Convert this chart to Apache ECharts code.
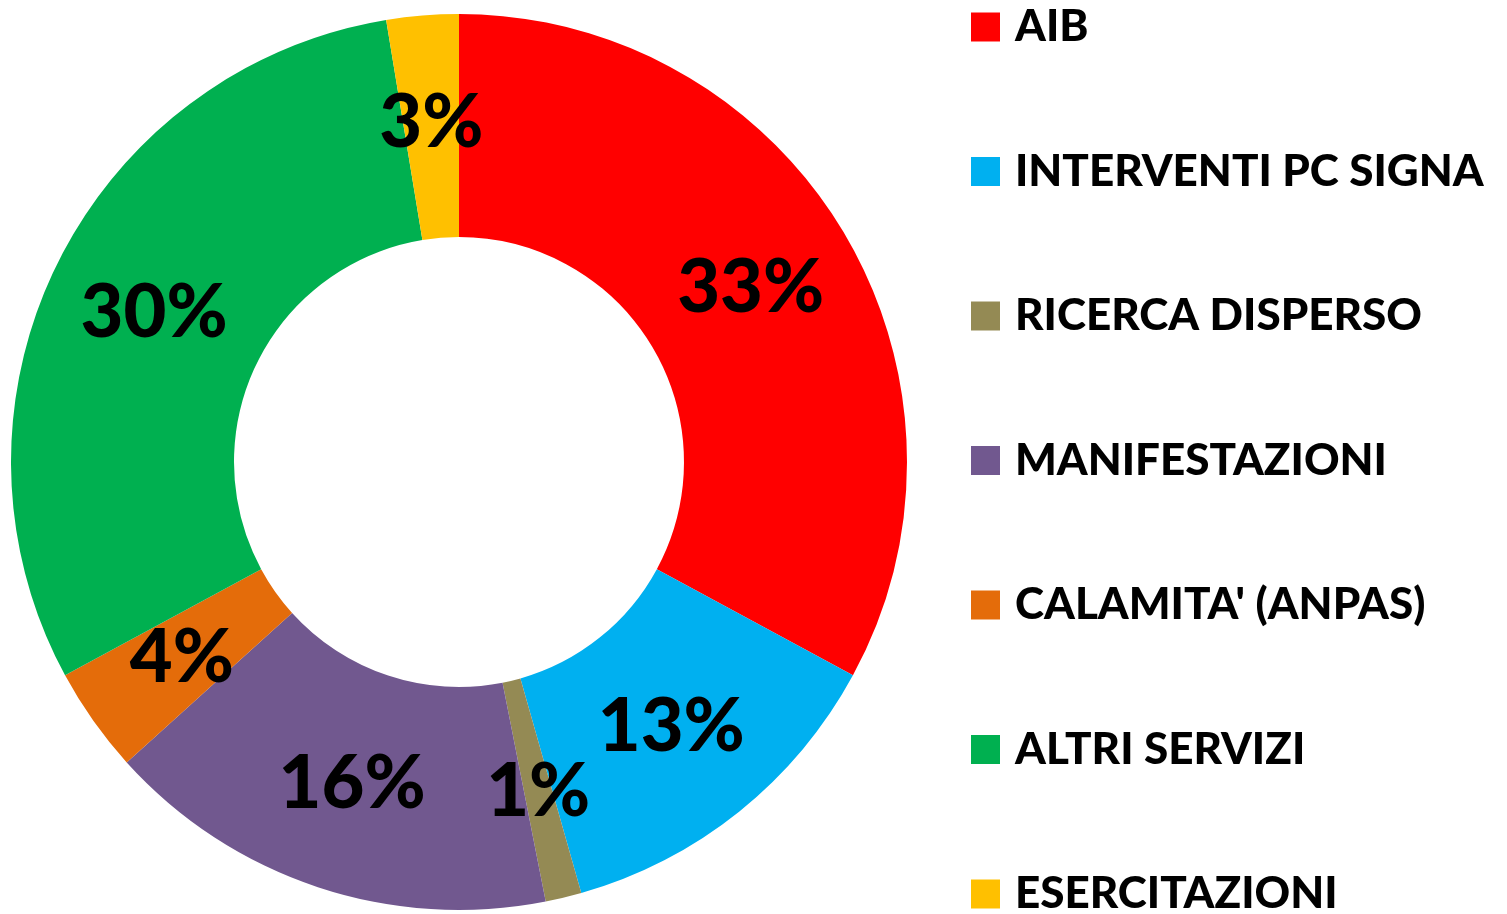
<!DOCTYPE html>
<html lang="it">
<head>
    <meta charset="UTF-8">
    <title>Servizi</title>
    <style>
        html, body { margin: 0; padding: 0; background: #fff; }
        #chart-container { width: 1507px; height: 914px; }
    </style>
</head>
<body>
    <div id="chart-container"></div>
    <script src="https://cdn.jsdelivr.net/npm/echarts@6/dist/echarts.min.js"></script>
    <script>
        // categorie e quote
        const categories = ['AIB', 'INTERVENTI PC SIGNA', 'RICERCA DISPERSO', 'MANIFESTAZIONI',
            "CALAMITA' (ANPAS)", 'ALTRI SERVIZI', 'ESERCITAZIONI'];
        const values = [32.9, 12.7, 1.3, 16.4, 3.8, 30.3, 2.6];
        const colors = ['#FF0000', '#00B0F0', '#948A54', '#71588F', '#E46C0A', '#00B050', '#FFC000'];

        var dom = document.getElementById('chart-container');
        var myChart = echarts.init(dom, null, { renderer: 'canvas' });

        var option = {
            animation: false,
            color: colors,
            legend: {
                orient: 'vertical',
                left: 971,
                top: 5,
                height: 940,
                padding: 0,
                itemWidth: 29,
                itemHeight: 29,
                itemGap: 100.5,
                icon: 'rect',
                textStyle: {
                    fontFamily: 'Lato',
                    fontWeight: 900,
                    fontSize: 44,
                    lineHeight: 44,
                    color: '#000',
                    padding: [0, 0, 0, 10]
                },
                data: categories
            },
            series: [{
                type: 'pie',
                center: [459, 462],
                radius: [225, 448],
                startAngle: 90,
                clockwise: true,
                avoidLabelOverlap: false,
                label: {
                    show: true,
                    position: 'inside',
                    formatter: function (p) { return Math.round(p.percent) + '%'; },
                    fontFamily: 'Lato',
                    fontWeight: 900,
                    fontSize: 74,
                    color: '#000'
                },
                labelLine: { show: false },
                emphasis: { disabled: true },
                data: categories.map(function (name, i) {
                    return { name: name, value: values[i] };
                })
            }]
        };

        myChart.setOption(option);
        window.addEventListener('resize', myChart.resize);
    </script>
</body>
</html>
